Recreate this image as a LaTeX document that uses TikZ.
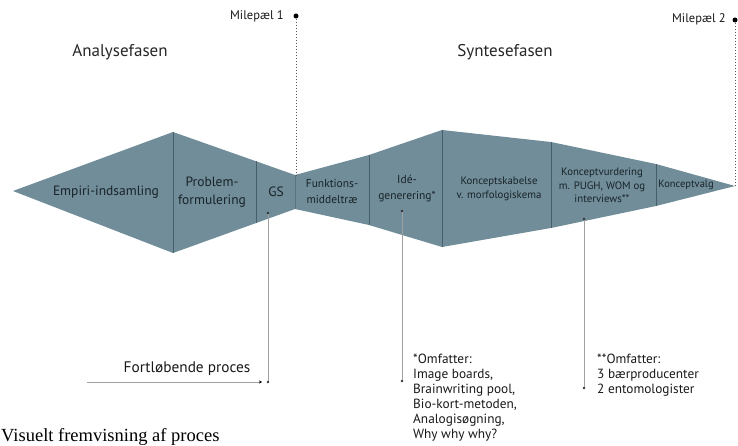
\documentclass[tikz,border=0pt]{standalone}
\usepackage{fontspec}
\setmainfont{PT Sans}
\newfontfamily\capfont{Liberation Serif}
\usetikzlibrary{arrows.meta}
\definecolor{fishfill}{RGB}{112,141,153}
\definecolor{fishline}{RGB}{70,95,107}
\definecolor{fishtext}{RGB}{25,35,40}
\definecolor{leadgray}{RGB}{160,160,160}
\definecolor{milegray}{RGB}{90,90,90}
\tikzset{
  phase/.style={font=\fontsize{17}{20}\selectfont, text=black!85, inner sep=0pt},
  mile/.style={font=\fontsize{12.5}{14}\selectfont, text=black!90, inner sep=0pt, anchor=east},
  big/.style={font=\fontsize{13.5}{18}\selectfont, text=fishtext, align=center, inner sep=0pt},
  mid/.style={font=\fontsize{11.5}{16}\selectfont, text=fishtext, align=center, inner sep=0pt},
  midtight/.style={font=\fontsize{10.8}{13.3}\selectfont, text=fishtext, align=center, inner sep=0pt},
  small/.style={font=\fontsize{10.5}{12.5}\selectfont, text=fishtext, align=center, inner sep=0pt},
  note/.style={font=\fontsize{13.3}{15}\selectfont, text=black!90, align=left, inner sep=0pt, anchor=north west},
  divider/.style={draw=fishline, line width=0.6pt},
  lead/.style={draw=leadgray, line width=0.9pt},
  milestone/.style={draw=milegray, line width=1pt, dash pattern=on 1pt off 2pt},
  bigdot/.style={circle, fill=black, inner sep=0pt, minimum size=5pt},
  smalldot/.style={circle, fill=black!80, inner sep=0pt, minimum size=2.6pt}
}
\begin{document}
\begin{tikzpicture}[x=1pt,y=-1pt]
\useasboundingbox (0,0) rectangle (738,446);
% fish body
\fill[fishfill] (13,191) -- (173,132) -- (295,175) -- (369,155) -- (442,130) -- (551,142) -- (656,164) -- (735,186)
  -- (656,206) -- (551,228) -- (442,247) -- (369,225) -- (295,209) -- (173,253) -- cycle;
% dividers
\draw[divider] (173,132) -- (173,253);
\draw[divider] (256,161.3) -- (256,223);
\draw[divider, draw opacity=0.5] (295,175) -- (295,209);
\draw[divider] (369,155) -- (369,225);
\draw[divider] (442,130) -- (442,247);
\draw[divider] (551,142) -- (551,228);
\draw[divider] (656,164) -- (656,206);
% texts inside
\node[big] (emp) at (106,192) {Empiri-indsamling};
\node[big] (prob) at (212,192) {Problem-\\formulering};
\node[big] (gs) at (276,192) {GS};
\node[mid] (funk) at (332,191.5) {Funktions-\\middeltræ};
\node[mid] (ide) at (407,189) {Idé-\\generering*};
\node[midtight] (kskab) at (499,189) {Konceptskabelse\\v. morfologiskema};
\node[midtight] (kvurd) at (602,185.5) {Konceptvurdering\\m. PUGH, WOM og\\interviews**};
\node[small] (kvalg) at (686,185) {Konceptvalg};
% phases
\node[phase] (ana) at (120,52) {Analysefasen};
\node[phase] (syn) at (505,52) {Syntesefasen};
% milestones
\node[bigdot] (m1) at (296,16) {};
\node[mile] (m1t) at (284,16) {Milepæl 1};
\coordinate (w1) at (296,175);
\draw[milestone] (m1) -- (w1);
\node[bigdot] (m2) at (735,20) {};
\node[mile] (m2t) at (726,19) {Milepæl 2};
\coordinate (w2) at (735,185);
\draw[milestone] (m2) -- (w2);
% lead lines
\node[smalldot] (gsa) at (268,213) {};
\node[smalldot] (gsb) at (268,382) {};
\draw[lead] (gsa) -- (gsb);
\node[smalldot] (idea) at (402,211) {};
\node[smalldot] (ideb) at (402,381) {};
\draw[lead] (idea) -- (ideb);
\node[smalldot] (kva) at (584,219) {};
\node[smalldot] (kvb) at (584,388) {};
\draw[lead] (kva) -- (kvb);
% ongoing process arrow
\coordinate (fstart) at (87,382);
\coordinate (fend) at (262,382);
\draw[lead, -{Stealth[length=3pt,width=3pt,fill=black,color=black]}] (fstart) -- (fend);
\node[font=\fontsize{15.3}{17}\selectfont, text=black!90, inner sep=0pt] (fort) at (187,369) {Fortløbende proces};
% notes
\node[note] (n1) at (413,354) {*Omfatter:\\Image boards,\\Brainwriting pool,\\Bio-kort-metoden,\\Analogisøgning,\\Why why why?};
\node[note] (n2) at (597,354) {**Omfatter:\\3 bærproducenter\\2 entomologister};
% caption
\node[font=\capfont\fontsize{18.5}{20}\selectfont, anchor=base west, inner sep=0pt] (cap) at (1,441) {Visuelt fremvisning af proces};
\end{tikzpicture}
\end{document}
